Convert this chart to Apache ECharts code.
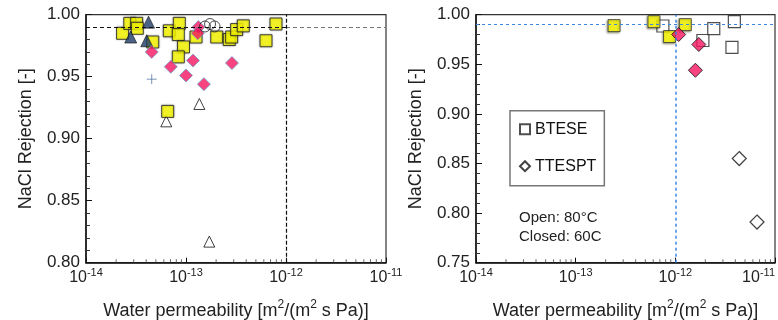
<!DOCTYPE html>
<html>
<head>
<meta charset="utf-8">
<script src="https://cdn.jsdelivr.net/npm/echarts@6/dist/echarts.min.js"></script>
<style>
html,body{margin:0;padding:0;background:#fff;}
#chart{width:778px;height:320px;}
</style>
</head>
<body>
<div id="chart"></div>
<script>
// ---------- Left panel data ----------
const leftYellowX = [2.32e-14, 2.74e-14, 3.21e-14, 3.26e-14, 4.65e-14, 6.81e-14, 8.57e-14, 8.38e-14, 9.44e-14, 8.38e-14, 1.26e-13, 2.03e-13, 2.71e-13, 2.86e-13, 3.21e-13, 3.74e-13, 6.31e-13, 7.94e-13, 6.56e-14];
const leftYellowY = [0.985, 0.993, 0.993, 0.989, 0.978, 0.987, 0.993, 0.984, 0.974, 0.966, 0.982, 0.982, 0.980, 0.982, 0.988, 0.991, 0.979, 0.9925, 0.922];
const leftNavyX = [4.22e-14, 2.80e-14, 4.05e-14];
const leftNavyY = [0.994, 0.982, 0.979];
const leftPinkX = [4.54e-14, 1.33e-13, 1.31e-13, 7.05e-14, 1.175e-13, 1.0e-13, 1.51e-13, 2.88e-13];
const leftPinkY = [0.970, 0.990, 0.985, 0.958, 0.963, 0.951, 0.944, 0.961];
const leftOpenTriX = [1.36e-13, 6.35e-14, 1.71e-13];
const leftOpenTriY = [0.928, 0.914, 0.817];
const leftCircleX = [1.55e-13, 1.74e-13, 1.93e-13];
const leftCircleY = [0.9905, 0.9925, 0.9905];
const leftPlusX = [4.54e-14];
const leftPlusY = [0.948];

// ---------- Right panel data ----------
const rightYellowX = [2.43e-13, 6.1e-13, 8.75e-13, 1.26e-12];
const rightYellowY = [0.989, 0.993, 0.978, 0.990];
const btesX = [7.5e-13, 1.89e-12, 2.43e-12, 3.91e-12, 3.70e-12];
const btesY = [0.9886, 0.974, 0.986, 0.993, 0.967];
const rightPinkX = [1.08e-12, 1.72e-12, 1.59e-12];
const rightPinkY = [0.980, 0.970, 0.944];
const ttesX = [4.38e-12, 6.6e-12];
const ttesY = [0.855, 0.791];

// ---------- Axes / reference values ----------
const xMin = 1e-14, xMax = 1e-11;
const leftYMin = 0.80, rightYMin = 0.75, yMax = 1.00, yInterval = 0.05;
const refRejection = 0.99, refPermeability = 1e-12;
const decades = [-14, -13, -12];
const legendNames = ['BTESE', 'TTESPT'];
const noteText = 'Open: 80°C\nClosed: 60C';

const FONT = '"Liberation Sans", Arial, Helvetica, sans-serif';
const pair = (xs, ys) => xs.map((x, i) => [x, ys[i]]);
const minorVals = [];
decades.forEach(e => { for (let k = 2; k <= 9; k++) minorVals.push(k * Math.pow(10, e)); });

const supRich = {
  b: {fontSize: 16, lineHeight: 18, verticalAlign: 'bottom', color: '#222', fontFamily: FONT},
  s: {fontSize: 11, lineHeight: 11, verticalAlign: 'top', color: '#222', fontFamily: FONT}
};
const nameRich = {
  n: {fontSize: 18, lineHeight: 21, verticalAlign: 'bottom', color: '#222', fontFamily: FONT},
  s: {fontSize: 12, lineHeight: 12, verticalAlign: 'top', color: '#222', fontFamily: FONT}
};

function xAxisCfg(gi, alignMax) {
  return {
    type: 'log', logBase: 10, min: xMin, max: xMax, gridIndex: gi,
    axisLine: {show: true, lineStyle: {color: '#111', width: 1.5}},
    axisTick: {show: true, inside: true, length: 5, lineStyle: {color: '#111', width: 1}},
    splitLine: {show: false},
    axisLabel: {
      margin: 5,
      alignMaxLabel: alignMax,
      formatter: v => '{b|10}{s|' + Math.round(Math.log10(v)) + '}',
      rich: supRich
    },
    name: '{n|Water permeability [m}{s|2}{n|/(m}{s|2}{n| s Pa)]}',
    nameLocation: 'middle', nameGap: 36,
    nameTextStyle: {rich: nameRich}
  };
}
function yAxisCfg(gi, mn) {
  return {
    type: 'value', min: mn, max: yMax, interval: yInterval, gridIndex: gi,
    axisLine: {show: true, lineStyle: {color: '#111', width: 1.5}},
    axisTick: {show: true, inside: true, length: 6, lineStyle: {color: '#111', width: 1}},
    minorTick: {show: true, splitNumber: 5, length: 4, lineStyle: {color: '#333', width: 1}},
    splitLine: {show: false},
    axisLabel: {formatter: v => v.toFixed(2), fontSize: 17, color: '#222', fontFamily: FONT, margin: 6},
    name: 'NaCl Rejection [-]', nameLocation: 'middle', nameGap: 51,
    nameTextStyle: {fontSize: 18, color: '#222', fontFamily: FONT}
  };
}
function minorTickSeries(gi, ymin) {
  return {
    type: 'scatter', xAxisIndex: gi, yAxisIndex: gi, silent: true, clip: false,
    symbol: 'rect', symbolSize: [1, 3.5], symbolOffset: [0, -1.75],
    itemStyle: {color: '#444'}, data: minorVals.map(v => [v, ymin]), z: 1
  };
}
const dashed = (c, w, t) => ({color: c, width: w, type: t});

const chart = echarts.init(document.getElementById('chart'), null, {renderer: 'canvas'});
chart.setOption({
  animation: false,
  backgroundColor: '#fff',
  textStyle: {fontFamily: FONT},
  grid: [
    {left: 86, top: 14.7, width: 300, height: 248, show: true, borderColor: '#333', borderWidth: 1.2, outerBoundsMode: 'none', containLabel: false},
    {left: 476, top: 14.7, width: 299, height: 248, show: true, borderColor: '#333', borderWidth: 1.2, outerBoundsMode: 'none', containLabel: false}
  ],
  xAxis: [xAxisCfg(0, null), xAxisCfg(1, 'right')],
  yAxis: [yAxisCfg(0, leftYMin), yAxisCfg(1, rightYMin)],
  legend: {
    data: legendNames, orient: 'vertical', left: 510, top: 110.7,
    borderColor: '#777', borderWidth: 1.5, padding: [9, 8, 10, 9],
    itemGap: 18, itemWidth: 10, itemHeight: 10, selectedMode: false,
    textStyle: {fontSize: 16, color: '#111', fontFamily: FONT, lineHeight: 19}
  },
  graphic: [{
    type: 'text', left: 519, top: 208, silent: true,
    style: {text: noteText, fontSize: 15, lineHeight: 19, fill: '#222', fontFamily: FONT}
  }],
  series: [
    minorTickSeries(0, leftYMin),
    minorTickSeries(1, rightYMin),
    // ---- left panel ----
    {
      type: 'scatter', name: 'open-tri', xAxisIndex: 0, yAxisIndex: 0,
      symbol: 'triangle', symbolSize: 11,
      itemStyle: {color: '#fff', borderColor: '#111', borderWidth: 1},
      data: pair(leftOpenTriX, leftOpenTriY),
      markLine: {
        silent: true, symbol: ['none', 'none'], label: {show: false},
        data: [
          [{coord: [xMin, refRejection], lineStyle: dashed('#111', 1.2, [4, 3])}, {coord: [refPermeability, refRejection]}],
          [{coord: [refPermeability, refRejection], lineStyle: dashed('#777', 1.2, [4, 3])}, {coord: [xMax, refRejection]}],
          [{coord: [refPermeability, leftYMin], lineStyle: dashed('#111', 1.2, [4, 2])}, {coord: [refPermeability, yMax]}]
        ]
      }
    },
    {
      type: 'scatter', name: 'yellow-L', xAxisIndex: 0, yAxisIndex: 0,
      symbol: 'rect', symbolSize: 12,
      itemStyle: {color: '#ffff00', borderColor: '#222', borderWidth: 1, shadowColor: 'rgba(0,0,0,0.35)', shadowBlur: 2},
      data: pair(leftYellowX, leftYellowY)
    },
    {
      type: 'scatter', name: 'navy', xAxisIndex: 0, yAxisIndex: 0,
      symbol: 'triangle', symbolSize: 12,
      itemStyle: {color: '#1d3b68', borderColor: '#111', borderWidth: 0.8},
      data: pair(leftNavyX, leftNavyY)
    },
    {
      type: 'scatter', name: 'pink-L', xAxisIndex: 0, yAxisIndex: 0,
      symbol: 'diamond', symbolSize: 13,
      itemStyle: {color: '#f5145f', borderColor: '#6f9fc4', borderWidth: 1},
      data: pair(leftPinkX, leftPinkY)
    },
    {
      type: 'scatter', name: 'circle', xAxisIndex: 0, yAxisIndex: 0,
      symbol: 'circle', symbolSize: 11,
      itemStyle: {color: 'rgba(255,255,255,0)', borderColor: '#222', borderWidth: 1},
      data: pair(leftCircleX, leftCircleY)
    },
    {
      type: 'scatter', name: 'plus', xAxisIndex: 0, yAxisIndex: 0,
      symbol: 'path://M0,5L10,5M5,0L5,10', symbolSize: 10,
      itemStyle: {color: 'rgba(0,0,0,0)', borderColor: '#5878a8', borderWidth: 1},
      data: pair(leftPlusX, leftPlusY)
    },
    // ---- right panel ----
    {
      type: 'scatter', name: 'BTESE', xAxisIndex: 1, yAxisIndex: 1,
      symbol: 'rect', symbolSize: 12,
      itemStyle: {color: '#fff', borderColor: '#222', borderWidth: 1.2},
      data: pair(btesX, btesY),
      markLine: {
        silent: true, symbol: ['none', 'none'], label: {show: false},
        data: [
          [{coord: [xMin, refRejection], lineStyle: dashed('#3d86e0', 1.2, [3, 3])}, {coord: [xMax, refRejection]}],
          [{coord: [refPermeability, rightYMin], lineStyle: dashed('#3d86e0', 1.5, [3, 3])}, {coord: [refPermeability, yMax]}]
        ]
      }
    },
    {
      type: 'scatter', name: 'TTESPT', xAxisIndex: 1, yAxisIndex: 1,
      symbol: 'diamond', symbolSize: 14,
      itemStyle: {color: '#fff', borderColor: '#111', borderWidth: 1.2},
      data: pair(ttesX, ttesY)
    },
    {
      type: 'scatter', name: 'yellow-R', xAxisIndex: 1, yAxisIndex: 1,
      symbol: 'rect', symbolSize: 12,
      itemStyle: {color: '#ffff00', borderColor: '#333', borderWidth: 1, shadowColor: 'rgba(60,60,0,0.5)', shadowBlur: 2, shadowOffsetX: -1, shadowOffsetY: 1},
      data: pair(rightYellowX, rightYellowY)
    },
    {
      type: 'scatter', name: 'pink-R', xAxisIndex: 1, yAxisIndex: 1,
      symbol: 'diamond', symbolSize: 14,
      itemStyle: {color: '#f5145f', borderColor: '#111', borderWidth: 1},
      data: pair(rightPinkX, rightPinkY)
    }
  ]
});
</script>
</body>
</html>
